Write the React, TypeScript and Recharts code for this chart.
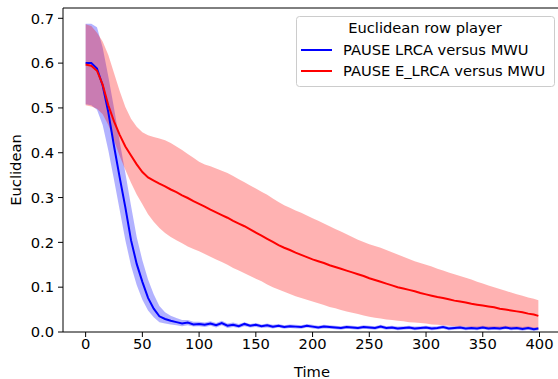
import React from "react";
import { ComposedChart, Line, Area, XAxis, YAxis, Label, ReferenceLine } from "recharts";

const times = [0,5,10,15,20,25,30,35,40,45,50,55,60,65,70,75,80,85,90,95,100,105,110,115,120,125,130,135,140,145,150,155,160,165,170,175,180,185,190,195,200,205,210,215,220,225,230,235,240,245,250,255,260,265,270,275,280,285,290,295,300,305,310,315,320,325,330,335,340,345,350,355,360,365,370,375,380,385,390,395,399];

const blueMean = [.600,.600,.588,.550,.490,.415,.345,.278,.205,.152,.112,.076,.052,.035,.029,.025,.022,.019,.021,.017,.018,.016,.019,.015,.020,.014,.016,.013,.018,.014,.016,.013,.015,.012,.014,.011,.013,.012,.011,.014,.012,.010,.012,.011,.010,.009,.011,.010,.009,.011,.010,.009,.012,.009,.010,.008,.009,.010,.008,.009,.010,.008,.009,.011,.008,.009,.010,.008,.009,.008,.010,.008,.009,.008,.010,.008,.009,.007,.009,.006,.008];

const blueUpper = [.688,.688,.680,.635,.570,.500,.425,.355,.282,.212,.160,.117,.084,.058,.044,.036,.031,.027,.027,.023,.023,.021,.024,.020,.025,.019,.021,.018,.022,.018,.020,.017,.019,.016,.018,.015,.017,.016,.015,.018,.016,.014,.016,.015,.014,.013,.015,.014,.013,.015,.014,.013,.016,.013,.014,.012,.013,.014,.012,.013,.014,.012,.013,.015,.012,.013,.014,.012,.013,.012,.014,.012,.013,.012,.014,.012,.013,.011,.013,.010,.011];

const blueLower = [.508,.506,.496,.462,.405,.340,.272,.205,.148,.105,.072,.048,.033,.022,.019,.017,.015,.013,.015,.012,.013,.011,.014,.010,.015,.009,.011,.009,.013,.010,.011,.009,.010,.008,.010,.007,.009,.008,.007,.010,.008,.006,.008,.007,.006,.005,.007,.006,.005,.007,.006,.005,.008,.005,.006,.004,.005,.006,.004,.005,.006,.004,.005,.007,.004,.005,.006,.004,.005,.004,.006,.004,.005,.004,.006,.004,.005,.003,.005,.002,.004];

const redMean = [.597,.594,.583,.552,.506,.470,.440,.414,.394,.374,.357,.345,.338,.331,.325,.318,.312,.305,.299,.292,.286,.280,.273,.267,.261,.255,.248,.242,.236,.229,.222,.215,.208,.201,.194,.188,.183,.177,.172,.167,.162,.158,.154,.149,.145,.141,.137,.133,.129,.125,.120,.116,.112,.108,.104,.100,.097,.094,.091,.087,.084,.081,.078,.076,.073,.070,.068,.066,.063,.061,.059,.057,.055,.052,.050,.048,.046,.044,.041,.039,.036];

const redUpper = [.687,.683,.668,.648,.618,.578,.538,.502,.476,.458,.446,.439,.435,.432,.428,.422,.414,.406,.397,.389,.380,.374,.370,.365,.360,.355,.348,.341,.334,.327,.320,.313,.306,.298,.290,.283,.277,.271,.266,.260,.254,.248,.242,.236,.230,.224,.218,.212,.206,.201,.196,.192,.188,.183,.178,.173,.168,.163,.158,.154,.150,.146,.141,.137,.133,.129,.125,.121,.117,.112,.108,.104,.100,.096,.092,.088,.084,.081,.077,.074,.071];

const redLower = [.506,.503,.498,.486,.462,.428,.393,.362,.333,.307,.285,.263,.246,.232,.221,.212,.205,.198,.191,.185,.180,.174,.168,.162,.156,.150,.143,.137,.131,.125,.119,.113,.106,.100,.095,.090,.085,.080,.076,.072,.068,.064,.060,.056,.053,.049,.046,.043,.040,.037,.034,.032,.030,.028,.027,.025,.024,.022,.021,.020,.019,.017,.016,.015,.014,.013,.012,.012,.011,.010,.010,.009,.009,.008,.008,.008,.007,.007,.007,.006,.006];

const xTicks = [0, 50, 100, 150, 200, 250, 300, 350, 400];
const yTicks = [0, 0.1, 0.2, 0.3, 0.4, 0.5, 0.6, 0.7];
const X_DOMAIN = [-19.95, 418.95];
const Y_MAX = 0.723;

const legendTitle = "Euclidean row player";
const seriesNames = ["PAUSE LRCA versus MWU", "PAUSE E_LRCA versus MWU"];
const xLabel = "Time";
const yLabel = "Euclidean";

const data = times.map((t, i) => ({
  t,
  blue: blueMean[i],
  red: redMean[i],
  blueBand: [blueLower[i], blueUpper[i]],
  redBand: [redLower[i], redUpper[i]],
}));

const FONT = "'DejaVu Sans', sans-serif";
const FS = 14.7;

export default function App() {
  const tickStyle = { fill: "#000", fontSize: FS, fontFamily: FONT };
  return (
    <div style={{ position: "fixed", left: 0, top: 0, width: 558, height: 379, overflow: "hidden", background: "#fff" }}>
      <ComposedChart
        width={562}
        height={379}
        data={data}
        margin={{ top: 8, right: 1, left: 0, bottom: 0 }}
      >
        <XAxis
          dataKey="t"
          type="number"
          domain={X_DOMAIN}
          allowDataOverflow
          ticks={xTicks}
          interval={0}
          height={47}
          tick={tickStyle}
          tickSize={5}
          tickMargin={2}
          tickLine={{ stroke: "#000" }}
          axisLine={{ stroke: "#000", strokeWidth: 1 }}
        >
          <Label
            content={(p: any) => {
              const vb = p.viewBox || {};
              return (
                <text x={vb.x + vb.width / 2} y={377} textAnchor="middle" fontSize={FS} fontFamily={FONT} fill="#000">
                  {xLabel}
                </text>
              );
            }}
          />
        </XAxis>
        <YAxis
          type="number"
          domain={[0, Y_MAX]}
          allowDataOverflow
          ticks={yTicks}
          interval={0}
          width={63}
          tick={tickStyle}
          tickSize={5}
          tickMargin={4}
          tickFormatter={(v: number) => v.toFixed(1)}
          tickLine={{ stroke: "#000" }}
          axisLine={{ stroke: "#000", strokeWidth: 1 }}
        >
          <Label
            content={(p: any) => {
              const vb = p.viewBox || {};
              const cy = vb.y + vb.height / 2;
              return (
                <text x={21} y={cy} transform={`rotate(-90, 21, ${cy})`} textAnchor="middle" fontSize={FS} fontFamily={FONT} fill="#000">
                  {yLabel}
                </text>
              );
            }}
          />
        </YAxis>
        <Area
          type="linear"
          dataKey="blueBand"
          stroke="none"
          fill="#0000ff"
          fillOpacity={0.3}
          isAnimationActive={false}
          dot={false}
          activeDot={false}
        />
        <Area
          type="linear"
          dataKey="redBand"
          stroke="none"
          fill="#ff0000"
          fillOpacity={0.3}
          isAnimationActive={false}
          dot={false}
          activeDot={false}
        />
        <Line
          type="linear"
          dataKey="blue"
          stroke="#0000ff"
          strokeWidth={2}
          dot={false}
          activeDot={false}
          isAnimationActive={false}
        />
        <Line
          type="linear"
          dataKey="red"
          stroke="#ff0000"
          strokeWidth={2}
          dot={false}
          activeDot={false}
          isAnimationActive={false}
        />
        <ReferenceLine y={Y_MAX} stroke="#000" strokeWidth={1} ifOverflow="visible" />
      </ComposedChart>
      <svg width={558} height={379} style={{ position: "absolute", left: 0, top: 0, pointerEvents: "none" }}>
        <rect x={296.5} y={16.5} width={258} height={70} rx={3} ry={3} fill="rgba(255,255,255,0.8)" stroke="#cccccc" strokeWidth={1} />
        <text x={425} y={33} textAnchor="middle" fontSize={FS} fontFamily={FONT} fill="#000">{legendTitle}</text>
        <line x1={301} x2={332} y1={50} y2={50} stroke="#0000ff" strokeWidth={2} />
        <text x={343} y={55} fontSize={FS} fontFamily={FONT} fill="#000">{seriesNames[0]}</text>
        <line x1={301} x2={332} y1={71} y2={71} stroke="#ff0000" strokeWidth={2} />
        <text x={343} y={76} fontSize={FS} fontFamily={FONT} fill="#000">{seriesNames[1]}</text>
      </svg>
    </div>
  );
}
